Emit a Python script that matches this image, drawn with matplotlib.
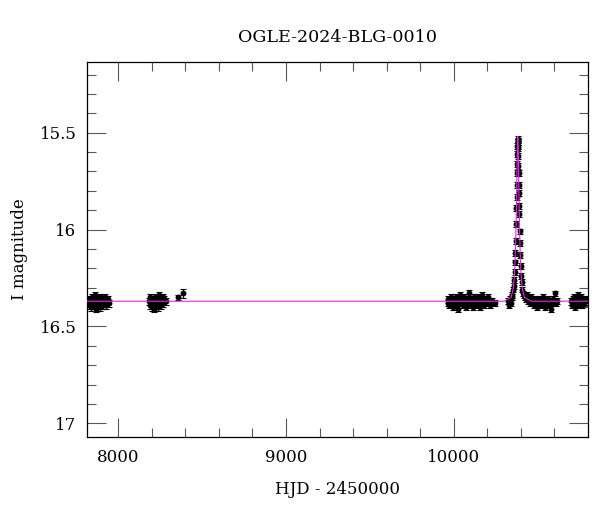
import matplotlib
matplotlib.use("Agg")
import matplotlib.pyplot as plt
from matplotlib.ticker import MultipleLocator

# light curve (HJD - 2450000, I mag)
t_s1 = [7824, 7828, 7831, 7835, 7838, 7842, 7845, 7849, 7852, 7856,
        7859, 7863, 7866, 7870, 7874, 7877, 7881, 7884, 7888, 7891,
        7895, 7899, 7902, 7906, 7910, 7914, 7918, 7922, 7927, 7932,
        7937, 7942]
m_s1 = [16.38, 16.36, 16.39, 16.37, 16.40, 16.35, 16.38, 16.36, 16.39, 16.37,
        16.34, 16.38, 16.41, 16.36, 16.37, 16.39, 16.35, 16.38, 16.36, 16.40,
        16.37, 16.35, 16.38, 16.39, 16.36, 16.37, 16.38, 16.35, 16.39, 16.37,
        16.36, 16.38]
e_s1 = 0.018

t_s2 = [8183, 8187, 8191, 8195, 8199, 8203, 8207, 8211, 8215, 8219,
        8223, 8227, 8231, 8235, 8239, 8243, 8247, 8251, 8255, 8259,
        8264, 8269, 8275, 8282]
m_s2 = [16.37, 16.39, 16.35, 16.38, 16.40, 16.36, 16.38, 16.41, 16.37, 16.35,
        16.39, 16.36, 16.38, 16.40, 16.37, 16.34, 16.38, 16.36, 16.39, 16.37,
        16.35, 16.38, 16.36, 16.37]
e_s2 = 0.018

t_s3 = [8353, 8388]
m_s3 = [16.35, 16.33]
e_s3 = [0.012, 0.022]

t_s4 = [9963, 9968, 9973, 9978, 9983, 9988, 9993, 9998, 10003, 10008,
        10013, 10018, 10023, 10028, 10033, 10038, 10043, 10048, 10053, 10058,
        10063, 10068, 10073, 10078, 10083, 10088, 10093, 10098, 10103, 10108,
        10113, 10118, 10123, 10128, 10133, 10138, 10143, 10148, 10153, 10158,
        10163, 10168, 10173, 10178, 10183, 10190, 10197, 10205, 10215, 10230,
        10245]
m_s4 = [16.38, 16.36, 16.39, 16.37, 16.35, 16.38, 16.40, 16.36, 16.37, 16.39,
        16.35, 16.38, 16.36, 16.41, 16.37, 16.34, 16.38, 16.36, 16.39, 16.37,
        16.35, 16.38, 16.40, 16.36, 16.37, 16.39, 16.33, 16.38, 16.36, 16.37,
        16.40, 16.35, 16.38, 16.36, 16.39, 16.37, 16.35, 16.38, 16.36, 16.40,
        16.37, 16.34, 16.38, 16.39, 16.36, 16.37, 16.38, 16.35, 16.39, 16.37,
        16.38]
e_s4 = 0.017

# event season
t_s5 = [10326, 10331, 10336, 10341, 10346, 10350, 10354, 10358, 10361, 10364,
        10366, 10368, 10370, 10372, 10374, 10375, 10376, 10377, 10378, 10379,
        10380, 10381, 10382, 10382.5, 10383, 10383.5, 10384, 10385, 10386, 10387,
        10388, 10389, 10390, 10391, 10393, 10395, 10397, 10400, 10403, 10406,
        10410, 10414, 10419, 10424, 10430, 10436, 10442, 10448, 10455, 10462,
        10469, 10476, 10483, 10490, 10497, 10504, 10511, 10518, 10525, 10532,
        10539, 10546, 10553, 10560, 10567, 10574, 10581, 10588, 10595, 10602,
        10610, 10618]
m_s5 = [16.37, 16.39, 16.36, 16.38, 16.34, 16.35, 16.31, 16.29, 16.26, 16.22,
        16.17, 16.12, 16.06, 15.97, 15.89, 15.83, 15.77, 15.71, 15.66, 15.61,
        15.57, 15.55, 15.53, 15.54, 15.55, 15.57, 15.58, 15.62, 15.67, 15.71,
        15.77, 15.81, 15.88, 15.92, 16.01, 16.07, 16.13, 16.19, 16.24, 16.27,
        16.31, 16.33, 16.34, 16.35, 16.36, 16.34, 16.37, 16.36, 16.38, 16.35,
        16.37, 16.39, 16.36, 16.38, 16.40, 16.37, 16.36, 16.39, 16.38, 16.35,
        16.37, 16.40, 16.38, 16.36, 16.39, 16.37, 16.41, 16.38, 16.36, 16.33,
        16.38, 16.37]
e_s5 = 0.015

t_s6 = [10702, 10706, 10710, 10714, 10718, 10722, 10726, 10730, 10734, 10738,
        10742, 10746, 10750, 10754, 10758, 10762, 10766, 10770, 10774, 10778,
        10783, 10788]
m_s6 = [16.37, 16.39, 16.36, 16.38, 16.35, 16.37, 16.40, 16.36, 16.38, 16.37,
        16.34, 16.39, 16.36, 16.38, 16.37, 16.35, 16.39, 16.37, 16.36, 16.38,
        16.37, 16.36]
e_s6 = 0.017

# model curve (magenta)
model_t = [7700, 10300, 10322, 10342, 10354, 10362, 10367, 10371, 10374, 10376,
           10378, 10380, 10382, 10384, 10386, 10388, 10390, 10393, 10397, 10402,
           10410, 10422, 10442, 10465, 10900]
model_m = [16.37, 16.37, 16.36, 16.35, 16.31, 16.24, 16.14, 16.01, 15.87, 15.76,
           15.65, 15.56, 15.52, 15.56, 15.65, 15.76, 15.87, 16.01, 16.14, 16.24,
           16.31, 16.35, 16.36, 16.37, 16.37]

plt.rcParams['font.family'] = ['DejaVu Serif']
plt.rcParams['font.size'] = 12

fig = plt.figure(figsize=(6, 5.12), dpi=100)
ax = fig.add_axes([0.1455, 0.1465, 0.834, 0.7324])

seasons = [(t_s1, m_s1, e_s1), (t_s2, m_s2, e_s2), (t_s3, m_s3, e_s3),
           (t_s4, m_s4, e_s4), (t_s5, m_s5, e_s5), (t_s6, m_s6, e_s6)]
for t, m, e in seasons:
    ax.errorbar(t, m, yerr=e, fmt='o', color='black', ms=3.2, elinewidth=0.8,
                capsize=2.0, capthick=0.8)

ax.plot(model_t, model_m, color='#ee22ee', lw=0.8, zorder=5)

ax.set_xlim(7815, 10799)
ax.set_ylim(17.071, 15.135)

ax.xaxis.set_major_locator(MultipleLocator(1000))
ax.xaxis.set_minor_locator(MultipleLocator(200))
ax.yaxis.set_major_locator(MultipleLocator(0.5))
ax.yaxis.set_minor_locator(MultipleLocator(0.1))
ax.set_yticks([15.5, 16, 16.5, 17])
ax.set_yticklabels(['15.5', '16', '16.5', '17'])

ax.tick_params(which='both', direction='in', top=True, right=True,
               color='0.35', width=0.8)
ax.tick_params(which='major', length=13.5)
ax.tick_params(which='minor', length=6.5)
ax.tick_params(axis='x', which='major', pad=8.5)
ax.tick_params(axis='y', which='major', pad=7.9)
for sp in ax.spines.values():
    sp.set_linewidth(0.9)

ax.set_xlabel('HJD - 2450000', labelpad=11)
ax.set_ylabel('I magnitude', labelpad=8)
ax.set_title('OGLE-2024-BLG-0010', fontsize=12.6, pad=14.4)

fig.savefig('out.png', dpi=100)
